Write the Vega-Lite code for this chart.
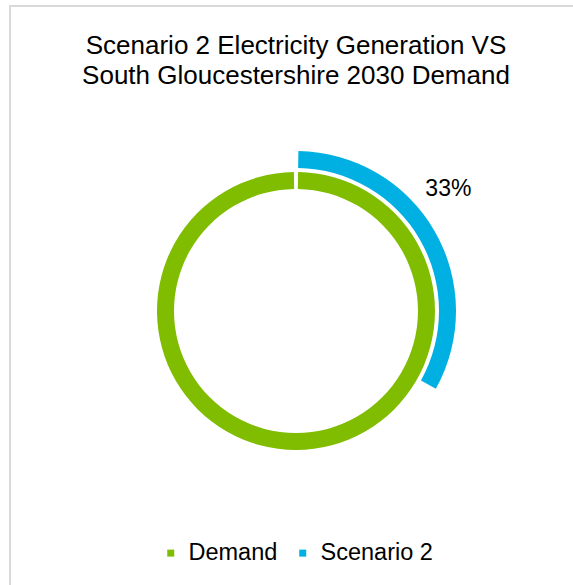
{
  "$schema": "https://vega.github.io/schema/vega-lite/v6.json",
  "width": 572,
  "height": 610,
  "autosize": {"type": "none"},
  "padding": {"left": 10, "top": 6, "right": -9, "bottom": -31},
  "background": "white",
  "view": {"stroke": "#d9d9d9", "strokeWidth": 2},
  "config": {
    "view": {"stroke": "#d9d9d9", "strokeWidth": 2},
    "font": "Liberation Sans"
  },
  "title": {
    "text": ["Scenario 2 Electricity Generation VS", "South Gloucestershire 2030 Demand"],
    "fontSize": 26,
    "font": "Liberation Sans",
    "fontWeight": "normal",
    "color": "#000000",
    "anchor": "middle",
    "offset": -83,
    "lineHeight": 30
  },
  "data": {
    "values": [
      {"series": "Demand", "value": 100, "label": ""},
      {"series": "Scenario 2", "value": 33, "label": "33%"}
    ]
  },
  "encoding": {
    "theta": {
      "field": "value",
      "type": "quantitative",
      "stack": true,
      "scale": {"domain": [0, 100], "range": [0.015, 6.268]}
    },
    "color": {
      "field": "series",
      "type": "nominal",
      "scale": {"domain": ["Demand", "Scenario 2"], "range": ["#80bc00", "#00b0e2"]},
      "legend": {
        "orient": "none",
        "legendX": 149,
        "legendY": 535,
        "direction": "horizontal",
        "title": null,
        "symbolType": "square",
        "symbolSize": 49,
        "symbolStrokeWidth": 0,
        "symbolOpacity": 1,
        "labelFontSize": 23.5,
        "labelFont": "Liberation Sans",
        "labelColor": "#000000",
        "labelOffset": 6,
        "columnPadding": 13,
        "padding": 0
      }
    }
  },
  "layer": [
    {
      "transform": [{"filter": "datum.series === 'Demand'"}],
      "mark": {"type": "arc", "radius": 139, "radius2": 122}
    },
    {
      "transform": [{"filter": "datum.series === 'Scenario 2'"}],
      "mark": {"type": "arc", "radius": 160, "radius2": 143}
    },
    {
      "transform": [{"filter": "datum.series === 'Scenario 2'"}],
      "mark": {"type": "text", "radius": 176, "dy": -34, "fontSize": 23, "font": "Liberation Sans", "align": "center", "baseline": "middle"},
      "encoding": {
        "text": {"field": "label"},
        "color": {"value": "#000000"}
      }
    }
  ]
}
